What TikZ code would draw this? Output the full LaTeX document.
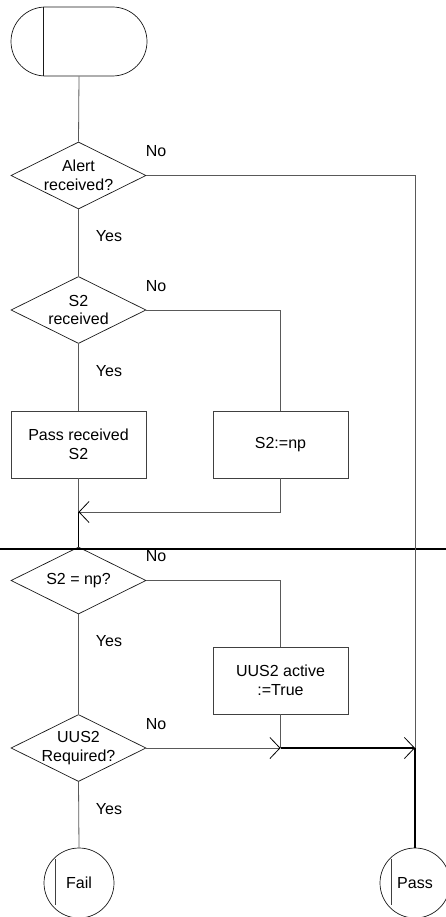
\documentclass[tikz,border=0pt]{standalone}
\usepackage{fontspec}
\setmainfont{Liberation Sans}
\usetikzlibrary{shapes.misc,shapes.geometric,arrows.meta}
\tikzset{
  txt/.style={font=\fontsize{16}{18.5}\selectfont, text=black},
  dec/.style={shape=diamond, draw=black!90, line width=0.7pt, minimum width=135pt, minimum height=67pt, inner sep=0pt},
  proc/.style={shape=rectangle, draw=black!75, line width=0.7pt, minimum width=135pt, minimum height=67pt, inner sep=0pt, align=center, txt},
  term/.style={shape=rounded rectangle, rounded rectangle arc length=180, draw=black!90, line width=0.7pt, minimum width=136pt, minimum height=69pt, inner sep=0pt},
  conn/.style={shape=circle, draw=black!90, line width=0.7pt, minimum size=70pt, inner sep=0pt, txt},
  flow/.style={draw=black!65, line width=0.8pt},
  bold/.style={draw=black, line width=1.3pt},
  tip/.style={-{Straight Barb[length=10pt,width=21pt,black,line width=0.8pt]}},
  lab/.style={txt, inner sep=0pt},
  intext/.style={txt, align=center, inner sep=0pt}
}
\begin{document}
\begin{tikzpicture}[x=1pt,y=-1pt]
\useasboundingbox (0,0) rectangle (446,917);
% shapes
\node[term] (start) at (79,41.5) {};
\draw[black!90, line width=0.7pt] ([xshift=33pt]start.west |- start.north) -- ([xshift=33pt]start.west |- start.south);
\node[dec, label={[intext, name=t1]center:Alert\\received?}] (d1) at (78.5,175.5) {};
\node[dec, label={[intext, name=t2]center:S2\\received}] (d2) at (78.5,310) {};
\node[proc] (b1) at (78.5,444.5) {Pass received\\S2};
\node[proc] (b2) at (280.5,444.5) {S2:=np};
\node[dec, label={[intext, name=t3]center:S2 = np?}] (d3) at (78.5,580.5) {};
\node[proc] (b3) at (280.5,680.5) {UUS2 active\\:=True};
\node[dec, label={[intext, name=t4]center:UUS2\\Required?}] (d4) at (78.5,748) {};
\node[conn] (fail) at (79,883) {Fail};
\node[conn] (pass) at (415,883) {Pass};
\draw[black!75, line width=0.7pt] ([shift={(-24,-24)}]fail.center) -- ([shift={(-24,22)}]fail.center);
\draw[black!75, line width=0.7pt] ([shift={(-24,-24)}]pass.center) -- ([shift={(-24,22)}]pass.center);
% junction points
\coordinate (m1) at (78.5,512);
\coordinate (j1) at (280.5,748);
\coordinate (j2) at (415,748);
% separator
\draw[black, line width=1.8pt] (0,549) -- (446,549);
% connectors
\draw[flow] (start.south) -- (d1.north);
\draw[flow] (d1.east) -| (j2);
\draw[flow] (d1.south) -- (d2.north);
\draw[flow] (d2.east) -| (b2.north);
\draw[flow] (d2.south) -- (b1.north);
\draw[flow] (b1.south) -- (m1);
\draw[flow, tip] (b2.south) |- (m1);
\draw[bold] (m1) -- (d3.north);
\draw[flow] (d3.east) -| (b3.north);
\draw[flow] (d3.south) -- (d4.north);
\draw[flow] (b3.south) -- (j1);
\draw[flow, tip] (d4.east) -- (j1);
\draw[bold, tip] (j1) -- (j2);
\draw[bold] (j2) -- (pass.north);
\draw[flow] (d4.south) -- (fail.north);
% labels
\node[lab] (no1) at (156,151) {No};
\node[lab] (yes1) at (109,236) {Yes};
\node[lab] (no2) at (156,286) {No};
\node[lab] (yes2) at (109,371) {Yes};
\node[lab] (no3) at (156,556) {No};
\node[lab] (yes3) at (109,641) {Yes};
\node[lab] (no4) at (156,724) {No};
\node[lab] (yes4) at (109,809) {Yes};
\end{tikzpicture}
\end{document}
